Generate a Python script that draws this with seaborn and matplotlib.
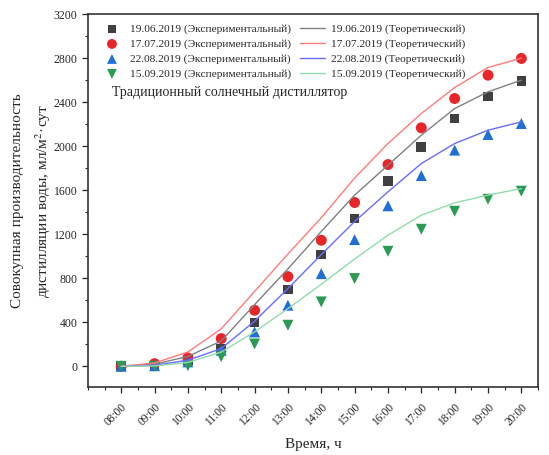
import matplotlib
matplotlib.use("Agg")
import matplotlib.pyplot as plt
from matplotlib.ticker import MultipleLocator, FixedLocator
import seaborn as sns
import pandas as pd

hours = ["08:00", "09:00", "10:00", "11:00", "12:00", "13:00", "14:00",
         "15:00", "16:00", "17:00", "18:00", "19:00", "20:00"]

exp_0619 = [0, 8, 55, 161, 397, 697, 1015, 1342, 1682, 1994, 2251, 2451, 2591]
exp_0717 = [0, 24, 76, 252, 509, 815, 1145, 1488, 1833, 2167, 2433, 2645, 2797]
exp_0822 = [0, 5, 40, 145, 312, 555, 842, 1151, 1458, 1733, 1964, 2106, 2206]
exp_0915 = [0, 0, 5, 88, 203, 373, 585, 797, 1045, 1245, 1409, 1518, 1591]

th_0619 = [0, 18, 90, 230, 560, 885, 1225, 1555, 1827, 2100, 2342, 2494, 2600]
th_0717 = [0, 30, 130, 340, 680, 1020, 1350, 1710, 2024, 2297, 2533, 2715, 2800]
th_0822 = [0, 9, 55, 161, 410, 706, 1015, 1315, 1585, 1842, 2024, 2145, 2221]
th_0915 = [0, 3, 35, 130, 312, 524, 745, 975, 1191, 1373, 1485, 1555, 1615]

dates = ["19.06.2019", "17.07.2019", "22.08.2019", "15.09.2019"]
exp_series = [exp_0619, exp_0717, exp_0822, exp_0915]
th_series = [th_0619, th_0717, th_0822, th_0915]

marker_colors = ["#404040", "#e8262a", "#1f6fd6", "#2a9a55"]
line_colors = ["#808080", "#ff7b7b", "#6b6bff", "#93dcae"]
markers = ["s", "o", "^", "v"]
msizes = [48, 62, 62, 62]

sns.set_style("ticks")
plt.rcParams["font.family"] = ["Liberation Serif", "DejaVu Serif"]
plt.rcParams["mathtext.fontset"] = "stix"

fig = plt.figure(figsize=(5.49, 4.55), dpi=100)
ax = fig.add_axes([0.160, 0.149, 0.820, 0.820])

x = list(range(len(hours)))

for i in range(4):
    df = pd.DataFrame({"x": x, "y": exp_series[i]})
    sns.scatterplot(data=df, x="x", y="y", ax=ax, marker=markers[i],
                    s=msizes[i], color=marker_colors[i], edgecolor="none",
                    linewidth=0, zorder=3,
                    label=f"{dates[i]} (Экспериментальный)")
for i in range(4):
    df = pd.DataFrame({"x": x, "y": th_series[i]})
    sns.lineplot(data=df, x="x", y="y", ax=ax, color=line_colors[i],
                 linewidth=1.0, zorder=4,
                 label=f"{dates[i]} (Теоретический)")

ax.set_xlim(-1, 12.5)
ax.set_ylim(-190, 3200)
ax.xaxis.set_major_locator(FixedLocator(x))
ax.set_xticklabels(hours, rotation=45, ha="right", va="top",
                   rotation_mode="anchor", fontsize=8.3)
ax.xaxis.set_minor_locator(FixedLocator([-1, -0.5] + [v + 0.5 for v in x]))
ax.yaxis.set_major_locator(MultipleLocator(400))
ax.yaxis.set_minor_locator(MultipleLocator(200))
ax.tick_params(axis="y", labelsize=8.5)
ax.tick_params(which="major", direction="out", length=4, width=0.9)
ax.tick_params(which="minor", direction="out", length=2.5, width=0.8)
ax.tick_params(axis="x", pad=6)

for s in ax.spines.values():
    s.set_linewidth(1.2)
    s.set_color("#333333")

ax.set_xlabel("Время, ч", fontsize=11, labelpad=7)
ax.set_ylabel("Совокупная производительность\nдистилляции воды, мл/м$^2$·сут",
              fontsize=11, linespacing=1.6)
ax.yaxis.set_label_coords(-0.078, 0.5)

h, l = ax.get_legend_handles_labels()
leg = ax.legend(h, l, ncol=2, loc="upper left", bbox_to_anchor=(0.008, 0.995),
                frameon=False, fontsize=8.2, handlelength=2.2,
                handletextpad=0.5, columnspacing=0.75, labelspacing=0.42,
                borderaxespad=0.3, markerscale=0.9)

ax.text(0.053, 0.79, "Традиционный солнечный дистиллятор",
        transform=ax.transAxes, fontsize=10, ha="left", va="center")

fig.savefig("out.png", dpi=100)
